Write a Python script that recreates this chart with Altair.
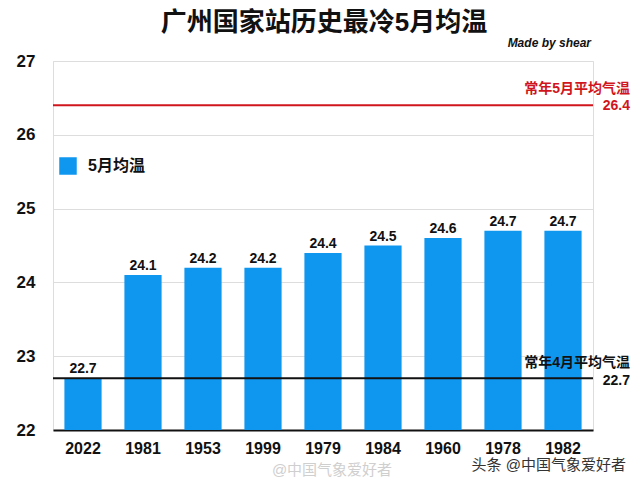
import altair as alt
import pandas as pd

years = ["2022", "1981", "1953", "1999", "1979", "1984", "1960", "1978", "1982"]
temps = [22.7, 24.1, 24.2, 24.2, 24.4, 24.5, 24.6, 24.7, 24.7]
series_name = "5月均温"
may_normal = 26.4
apr_normal = 22.7
y_ticks = [22, 23, 24, 25, 26, 27]

FONT = "Liberation Sans, Noto Sans CJK SC, sans-serif"
BLUE = "#0f97f0"
RED = "#d0161c"
W, H = 540, 369

df = pd.DataFrame({"year": years, "temp": temps, "series": [series_name] * len(years)})

x_enc = alt.X("year:N", sort=years, title=None,
              scale=alt.Scale(paddingInner=0.38, paddingOuter=0.19),
              axis=alt.Axis(labelAngle=0, labelFont=FONT, labelFontSize=16, labelFontWeight="bold",
                            labelColor="#111", ticks=False, labelPadding=10,
                            domainColor="#111", domainWidth=2, grid=False))
y_scale = alt.Scale(domain=[22, 27], nice=False, zero=False)

bars = alt.Chart(df).mark_bar(color=BLUE, clip=True).encode(
    x=x_enc,
    y=alt.Y("temp:Q", scale=y_scale, title=None,
            axis=alt.Axis(values=y_ticks, format="d", labelFont=FONT, labelFontSize=17, labelFontWeight="bold",
                          labelColor="#111", ticks=False, domain=False, labelPadding=18,
                          gridColor="#dddddd", gridWidth=1)),
    y2=alt.datum(22),
    color=alt.Color("series:N", scale=alt.Scale(domain=[series_name], range=[BLUE]),
                    legend=alt.Legend(title=None, orient="none", legendX=6, legendY=96,
                                      symbolType="square", symbolSize=306, symbolStrokeWidth=0,
                                      labelFont=FONT, labelFontSize=16, labelFontWeight="bold",
                                      labelColor="#111", labelOffset=11, padding=0)),
)

bar_labels = alt.Chart(df).mark_text(font=FONT, fontSize=14, fontWeight="bold", color="#111",
                                     baseline="alphabetic", dy=-5).encode(
    x=alt.X("year:N", sort=years),
    y=alt.Y("temp:Q", scale=y_scale),
    text=alt.Text("temp:Q", format=".1f"),
)

red_rule = alt.Chart(pd.DataFrame({"v": [may_normal]})).mark_rule(color=RED, strokeWidth=2).encode(
    y=alt.Y("v:Q", scale=y_scale))
red_name = alt.Chart(pd.DataFrame({"v": [may_normal], "t": ["常年5月平均气温"]})).mark_text(
    font=FONT, fontSize=14, fontWeight="bold", color=RED, align="right", baseline="middle", dy=-16).encode(
    x=alt.value(W + 37), y=alt.Y("v:Q", scale=y_scale), text="t:N")
red_val = alt.Chart(pd.DataFrame({"v": [may_normal], "t": [f"{may_normal:.1f}"]})).mark_text(
    font=FONT, fontSize=14, fontWeight="bold", color=RED, align="right", baseline="middle", dy=1).encode(
    x=alt.value(W + 37), y=alt.Y("v:Q", scale=y_scale), text="t:N")

blk_rule = alt.Chart(pd.DataFrame({"v": [apr_normal]})).mark_rule(color="#111", strokeWidth=2).encode(
    y=alt.Y("v:Q", scale=y_scale))
blk_name = alt.Chart(pd.DataFrame({"v": [apr_normal], "t": ["常年4月平均气温"]})).mark_text(
    font=FONT, fontSize=14, fontWeight="bold", color="#111", align="right", baseline="middle", dy=-15).encode(
    x=alt.value(W + 37), y=alt.Y("v:Q", scale=y_scale), text="t:N")
blk_val = alt.Chart(pd.DataFrame({"v": [apr_normal], "t": [f"{apr_normal:.1f}"]})).mark_text(
    font=FONT, fontSize=14, fontWeight="bold", color="#111", align="right", baseline="middle", dy=3).encode(
    x=alt.value(W + 37), y=alt.Y("v:Q", scale=y_scale), text="t:N")

title = alt.Chart(pd.DataFrame({"t": ["广州国家站历史最冷5月均温"]})).mark_text(
    font=FONT, fontSize=26, fontWeight="bold", color="#111", align="center", baseline="middle").encode(
    x=alt.value(271), y=alt.value(-38), text="t:N")
credit = alt.Chart(pd.DataFrame({"t": ["Made by shear"]})).mark_text(
    font=FONT, fontSize=12, fontWeight="bold", fontStyle="italic", color="#111",
    align="right", baseline="middle").encode(
    x=alt.value(538), y=alt.value(-18), text="t:N")
wm1 = alt.Chart(pd.DataFrame({"t": ["头条 @中国气象爱好者"]})).mark_text(
    font=FONT, fontSize=15, color="#333", align="right", baseline="middle").encode(
    x=alt.value(573), y=alt.value(404), text="t:N")
wm2 = alt.Chart(pd.DataFrame({"t": ["@中国气象爱好者"]})).mark_text(
    font=FONT, fontSize=15, color="#cfcfcf", align="center", baseline="middle").encode(
    x=alt.value(279), y=alt.value(409), text="t:N")

chart = alt.layer(bars, bar_labels, red_rule, red_name, red_val, blk_rule, blk_name, blk_val,
                  title, credit, wm1, wm2).properties(
    width=W, height=H,
    autosize=alt.AutoSizeParams(type="none"),
    padding={"left": 45, "top": 53, "right": 39, "bottom": 48},
).configure_view(stroke=None).configure(background="white")

chart.save("out.html", embed_options={"renderer": "svg", "actions": False})
